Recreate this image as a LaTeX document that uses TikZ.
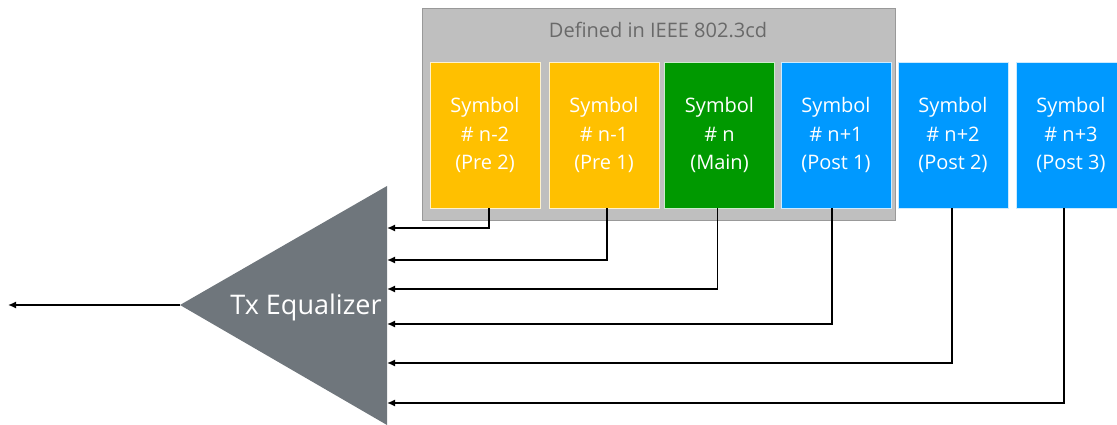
\documentclass[tikz,border=0pt]{standalone}
\usepackage{fontspec}
\setmainfont{Open Sans}
\usetikzlibrary{arrows.meta}

\definecolor{symYellow}{HTML}{FFC000}
\definecolor{symGreen}{HTML}{009900}
\definecolor{symBlue}{HTML}{0099FF}
\definecolor{eqGray}{HTML}{6F767C}
\definecolor{ieeeGray}{HTML}{BFBFBF}

\tikzset{every picture/.style={line width=1.5pt}}
\tikzset{
  symbox/.style={draw=white!80!#1, line width=0.75pt, fill=#1, text=white, minimum width=110, minimum height=146,
    inner sep=0pt, align=center, font=\fontsize{20}{28.5}\selectfont},
  tap/.style={-{Latex[length=8,width=7]}}
}

\begin{document}
\begin{tikzpicture}[x=1pt,y=1pt,yscale=-1,xscale=1]
	\useasboundingbox (0,0) rectangle (1117,425);

	%Shape: Rectangle [id:ieee]
	\draw [draw=ieeeGray!80!black, line width=0.75pt, fill=ieeeGray] (422,8) rectangle (895,220);
	% Text Node
	\draw (658,30) node [text=ieeeGray!55!black, font=\fontsize{20}{24}\selectfont] (ieee) {Defined in IEEE 802.3cd};

	%Shape: Symbol boxes
	\node [symbox=symYellow] (pre2) at (485,135) {Symbol\\\# n-2\\(Pre 2)};
	\node [symbox=symYellow] (pre1) at (604,135) {Symbol\\\# n-1\\(Pre 1)};
	\node [symbox=symGreen] (main) at (719.5,135) {Symbol\\\# n\\(Main)};
	\node [symbox=symBlue] (post1) at (836,135) {Symbol\\\# n+1\\(Post 1)};
	\node [symbox=symBlue] (post2) at (953,135) {Symbol\\\# n+2\\(Post 2)};
	\node [symbox=symBlue] (post3) at (1071,135) {Symbol\\\# n+3\\(Post 3)};

	%Shape: Triangle [id:eq]
	\coordinate (apex) at (180,305);
	\fill [eqGray] (apex) -- (387,186) -- (387,425) -- cycle;
	% Text Node
	\draw (306,307) node [text=white, font=\fontsize{27}{32}\selectfont] (eq) {Tx Equalizer};

	%Straight Lines [id:out]
	\coordinate (out) at (8,305);
	\draw [tap] (apex) -- (out);

	% Tap inputs
	\coordinate (in1) at (387,228);
	\coordinate (in2) at (387,260);
	\coordinate (in3) at (387,289);
	\coordinate (in4) at (387,324);
	\coordinate (in5) at (387,363);
	\coordinate (in6) at (387,403);
	\draw [tap] ([xshift=4]pre2.south) |- (in1);
	\draw [tap] ([xshift=3]pre1.south) |- (in2);
	\draw [tap] ([xshift=-2]main.south) |- (in3);
	\draw [tap] ([xshift=-4]post1.south) |- (in4);
	\draw [tap] ([xshift=-1]post2.south) |- (in5);
	\draw [tap] ([xshift=-7]post3.south) |- (in6);

\end{tikzpicture}
\end{document}
